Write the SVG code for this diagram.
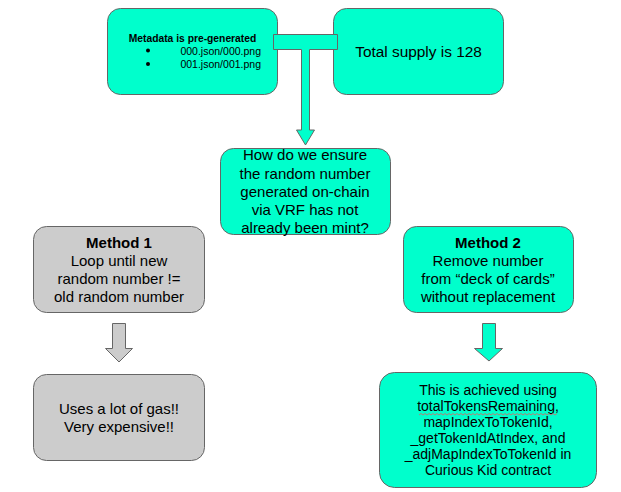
<svg xmlns="http://www.w3.org/2000/svg" width="621" height="492" viewBox="0 0 621 492">
<style>
.g{fill:#00ffcc;stroke:#666;stroke-width:1}
.gr{fill:#cccccc;stroke:#666;stroke-width:1}
.t{font-family:"Liberation Sans",Arial,sans-serif;font-size:15px;fill:#000;text-anchor:middle}
.b{font-weight:bold}
.s{font-family:"Liberation Sans",Arial,sans-serif;font-size:10.5px;fill:#000}
.m{font-family:"Liberation Sans",Arial,sans-serif;font-size:14px;fill:#000;text-anchor:middle}
</style>
<rect width="621" height="492" fill="#fff"/>
<g id="metadata">
<rect class="g" x="107.5" y="8.5" width="170" height="86" rx="13"/>
<text class="s b" x="192.5" y="42" text-anchor="middle" style="font-size:10.3px">Metadata is pre-generated</text>
<circle cx="148" cy="50.5" r="2"/>
<circle cx="148" cy="64" r="2"/>
<text class="s" x="261" y="54.5" text-anchor="end">000.json/000.png</text>
<text class="s" x="261" y="68" text-anchor="end">001.json/001.png</text>
</g>
<g id="supply">
<rect class="g" x="333.5" y="8.5" width="170" height="86" rx="13"/>
<text class="t" x="418.5" y="57" style="font-size:15.4px">Total supply is 128</text>
</g>
<g id="question">
<rect class="g" x="220.5" y="148.5" width="170" height="86" rx="13"/>
<text class="t" x="305" y="160">How do we ensure</text>
<text class="t" x="305" y="178.5">the random number</text>
<text class="t" x="305" y="197">generated on-chain</text>
<text class="t" x="305" y="215">via VRF has not</text>
<text class="t" x="305" y="233">already been mint?</text>
</g>
<g id="method1">
<rect class="gr" x="33.5" y="226.5" width="171" height="86" rx="13"/>
<text class="t b" x="119" y="248">Method 1</text>
<text class="t" x="119" y="266">Loop until new</text>
<text class="t" x="119" y="284">random number !=</text>
<text class="t" x="119" y="302">old random number</text>
</g>
<g id="method2">
<rect class="g" x="403.5" y="226.5" width="170" height="86" rx="13"/>
<text class="t b" x="488" y="248">Method 2</text>
<text class="t" x="488" y="266">Remove number</text>
<text class="t" x="488" y="284">from “deck of cards”</text>
<text class="t" x="488" y="302">without replacement</text>
</g>
<g id="gas">
<rect class="gr" x="33.5" y="374.5" width="171" height="86" rx="13"/>
<text class="t" x="119" y="414">Uses a lot of gas!!</text>
<text class="t" x="119" y="432">Very expensive!!</text>
</g>
<g id="achieved">
<rect class="g" x="379.5" y="372.5" width="217" height="115" rx="15"/>
<text class="m" x="488" y="395">This is achieved using</text>
<text class="m" x="488" y="411">totalTokensRemaining,</text>
<path d="M419,415 l2,-1.5 l2,1.5 l2,-1.5 l2,1.5 l2,-1.5 l2,1.5 l2,-1.5 l2,1.5 l2,-1.5 l2,1.5 l2,-1.5 l2,1.5 l2,-1.5 l2,1.5 l2,-1.5 l2,1.5 l2,-1.5 l2,1.5 l2,-1.5 l2,1.5 l2,-1.5 l2,1.5 l2,-1.5 l2,1.5 l2,-1.5 l2,1.5 l2,-1.5 l2,1.5 l2,-1.5 l2,1.5 l2,-1.5 l2,1.5 l2,-1.5 l2,1.5 l2,-1.5 l2,1.5 l2,-1.5 l2,1.5 l2,-1.5 l2,1.5 l2,-1.5 l2,1.5 l2,-1.5 l2,1.5 l2,-1.5 l2,1.5 l2,-1.5 l2,1.5 l2,-1.5 l2,1.5 l2,-1.5 l2,1.5 l2,-1.5 l2,1.5 l2,-1.5 l2,1.5 l2,-1.5 l2,1.5 l2,-1.5 l2,1.5 l2,-1.5 l2,1.5 l2,-1.5 l2,1.5 l2,-1.5 l2,1.5 l2,-1.5 l2,1.5 l2,-1.5" fill="none" stroke="#e06060" stroke-width="0.8"/>
<text class="m" x="488" y="427">mapIndexToTokenId,</text>
<text class="m" x="488" y="443">_getTokenIdAtIndex, and</text>
<text class="m" x="488" y="459">_adjMapIndexToTokenId in</text>
<text class="m" x="488" y="475">Curious Kid contract</text>
</g>
<g id="connectors">
<polygon class="g" points="273.5,34.5 337.5,34.5 337.5,49.5 309.5,49.5 309.5,130 314.5,130 305.5,145 296.5,130 301.5,130 301.5,49.5 273.5,49.5"/>
<polygon class="gr" points="112.5,323.5 125.5,323.5 125.5,348.5 132.5,348.5 119,362 105.5,348.5 112.5,348.5"/>
<polygon class="g" points="482.5,323.5 495.5,323.5 495.5,348.5 502.5,348.5 489,361 474.5,348.5 482.5,348.5"/>
</g>
</svg>
